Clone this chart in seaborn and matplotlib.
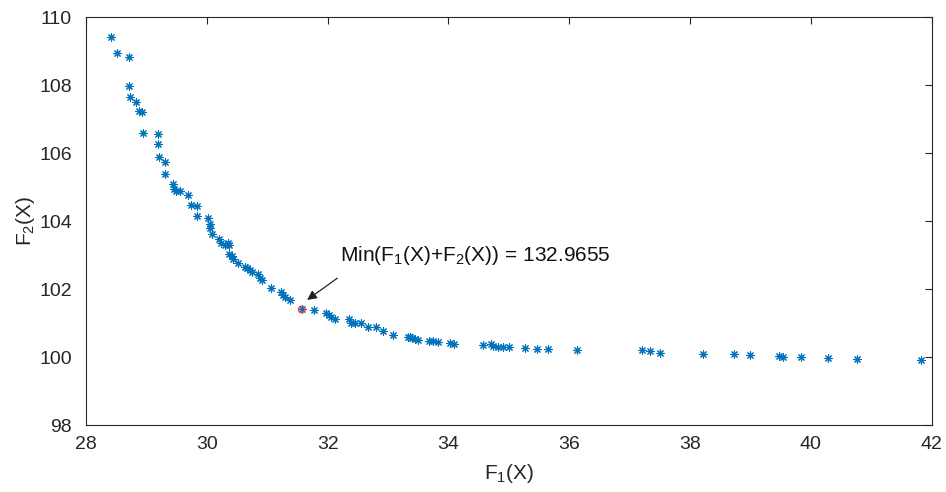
import numpy as np
import pandas as pd
import matplotlib
matplotlib.use("Agg")
import matplotlib.pyplot as plt
import seaborn as sns

f1 = [28.42, 28.52, 28.71, 28.72, 28.73, 28.82, 28.87, 28.93, 28.95, 29.19,
      29.20, 29.21, 29.30, 29.31, 29.44, 29.46, 29.49, 29.55, 29.69, 29.74,
      29.84, 29.84, 30.02, 30.05, 30.05, 30.08, 30.20, 30.23, 30.30, 30.35,
      30.37, 30.37, 30.41, 30.44, 30.52, 30.63, 30.67, 30.72, 30.75, 30.84,
      30.88, 30.92, 31.07, 31.23, 31.26, 31.29, 31.38, 31.57, 31.77, 31.98,
      32.02, 32.06, 32.13, 32.35, 32.38, 32.46, 32.56, 32.67, 32.80, 32.91,
      33.08, 33.33, 33.36, 33.40, 33.45, 33.49, 33.68, 33.74, 33.83, 34.03,
      34.09, 34.58, 34.71, 34.74, 34.82, 34.91, 35.01, 35.27, 35.46, 35.64,
      36.13, 37.20, 37.34, 37.51, 38.21, 38.73, 38.99, 39.48, 39.53, 39.84,
      40.28, 40.76, 41.82]
f2 = [109.42, 108.95, 108.83, 107.98, 107.64, 107.51, 107.24, 107.21, 106.60, 106.57,
      106.26, 105.87, 105.73, 105.38, 105.10, 104.94, 104.88, 104.88, 104.76, 104.48,
      104.45, 104.16, 104.08, 103.90, 103.80, 103.61, 103.47, 103.34, 103.31, 103.34,
      103.29, 103.03, 102.97, 102.88, 102.76, 102.66, 102.62, 102.56, 102.51, 102.43,
      102.34, 102.27, 102.02, 101.92, 101.84, 101.77, 101.68, 101.40, 101.38, 101.30,
      101.24, 101.19, 101.11, 101.11, 101.01, 100.99, 100.99, 100.89, 100.87, 100.76,
      100.65, 100.60, 100.58, 100.56, 100.53, 100.50, 100.48, 100.48, 100.43, 100.40,
      100.38, 100.36, 100.38, 100.33, 100.30, 100.30, 100.29, 100.26, 100.24, 100.23,
      100.21, 100.21, 100.19, 100.13, 100.09, 100.09, 100.07, 100.03, 100.01, 99.99,
      99.97, 99.94, 99.91]
best_f1 = [31.57]
best_f2 = [101.40]
annotation = "Min(F$_1$(X)+F$_2$(X)) = 132.9655"

df = pd.DataFrame({"F1": f1, "F2": f2})
best = pd.DataFrame({"F1": best_f1, "F2": best_f2})

sns.set_style("white")
plt.rcParams["font.family"] = ["Liberation Sans", "DejaVu Sans"]
plt.rcParams["mathtext.fontset"] = "custom"
plt.rcParams["mathtext.rm"] = "Liberation Sans"
plt.rcParams["mathtext.it"] = "Liberation Sans"

fig = plt.figure(figsize=(9.46, 4.92), dpi=100)
ax = fig.add_axes([0.0909, 0.136, 0.894, 0.8294])

sns.scatterplot(data=df, x="F1", y="F2", ax=ax, marker=(8, 2, 0), s=28,
                color="#0072BD", linewidth=0.8, edgecolor="#0072BD", legend=False)
sns.scatterplot(data=best, x="F1", y="F2", ax=ax, marker="o", s=22,
                facecolor="none", edgecolor="#E8474A", linewidth=1.0, legend=False)

ax.set_xlim(28, 42)
ax.set_ylim(98, 110)
ax.set_xticks(np.arange(28, 43, 2))
ax.set_yticks(np.arange(98, 111, 2))
ax.tick_params(direction="in", top=True, right=True, length=5, width=0.8,
               labelsize=14, colors="#262626")
ax.tick_params(axis="x", pad=8)
ax.tick_params(axis="y", pad=10)
for sp in ax.spines.values():
    sp.set_color("#262626")
    sp.set_linewidth(0.8)
ax.set_xlabel("F$_1$(X)", fontsize=15, color="#262626", labelpad=6)
ax.set_ylabel("F$_2$(X)", fontsize=15, color="#262626", labelpad=2)

ax.text(32.2, 103.0, annotation, fontsize=15, color="#111111",
        ha="left", va="center")
ax.annotate("", xy=(31.66, 101.68), xytext=(32.16, 102.32),
            arrowprops=dict(arrowstyle="-|>", color="#222222", lw=0.9,
                            shrinkA=0, shrinkB=0, mutation_scale=14))

fig.savefig("out.png", dpi=100)
